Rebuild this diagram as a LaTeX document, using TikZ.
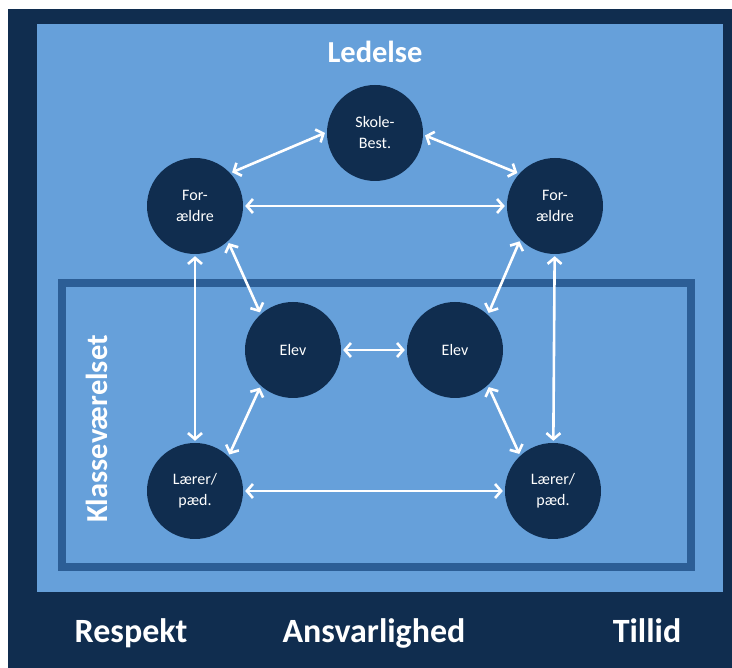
\documentclass[tikz,border=0pt]{standalone}
\usepackage{fontspec}
\setmainfont{Carlito}
\usepackage{tikz}
\usetikzlibrary{arrows.meta, positioning}
\definecolor{navy}{RGB}{16,45,79}
\definecolor{skyblue}{RGB}{102,160,218}
\definecolor{frameblue}{RGB}{44,94,150}
\tikzset{
  person/.style={
    circle,
    fill=navy,
    text=white,
    minimum size=96pt,
    inner sep=0pt,
    font=\fontsize{16}{21}\selectfont,
    align=center
  },
  link/.style={
    <->,
    draw=white,
    line width=2.6pt,
    shorten >=2pt,
    shorten <=2pt
  },
  headline/.style={
    text=white,
    font=\fontsize{30.5}{36}\selectfont\bfseries,
    inner sep=0pt
  },
  value/.style={
    text=white,
    font=\fontsize{34}{40}\selectfont\bfseries,
    inner sep=0pt,
    anchor=base
  }
}

\begin{document}
\begin{tikzpicture}[x=1pt, y=1pt, >={Straight Barb[length=6pt, width=14pt]}]
        \useasboundingbox (0,0) rectangle (732,668);
        % Background and frames
        \fill[navy] (8,0) rectangle (732,659);
        \fill[skyblue] (37,76) rectangle (723,644);
        \draw[frameblue, line width=8pt] (62,101) rectangle (691,385);

        % Define the nodes
        \node[person] (skole) at (375,535) {Skole-\\Best.};
        \node[person] (forL)  at (195,462) {For-\\ældre};
        \node[person] (forR)  at (555,462) {For-\\ældre};
        \node[person] (elevL) at (293,318) {Elev};
        \node[person] (elevR) at (455,318) {Elev};
        \node[person] (laerL) at (195,177) {Lærer/\\pæd.};
        \node[person] (laerR) at (553,177) {Lærer/\\pæd.};

        % Headings
        \node[headline, anchor=base] (ledelse) at (375,605) {Ledelse};
        \node[headline, rotate=90] (klasse) at (97,239) {Klasseværelset};
        \node[value] (respekt) at (131,25) {Respekt};
        \node[value] (ansvar)  at (374,25) {Ansvarlighed};
        \node[value] (tillid)  at (647,25) {Tillid};

        % Arrows between the nodes
        \path (forL.43)    edge[link] (skole.179);
        \path (skole.-2)   edge[link] (forR.138);
        \path (forL)       edge[link] (forR);

        \path (forL)       edge[link] (laerL);
        \path (forL.-47)   edge[link] (elevL.132);
        \path (forR.-136)  edge[link] (elevR.47);
        \path (forR)       edge[link] (laerR);

        \path (elevL)      edge[link] (elevR);
        \path (elevL.-132) edge[link] (laerL.46);
        \path (elevR.-47)  edge[link] (laerR.133);
        \path (laerL)      edge[link] (laerR);
\end{tikzpicture}
\end{document}
